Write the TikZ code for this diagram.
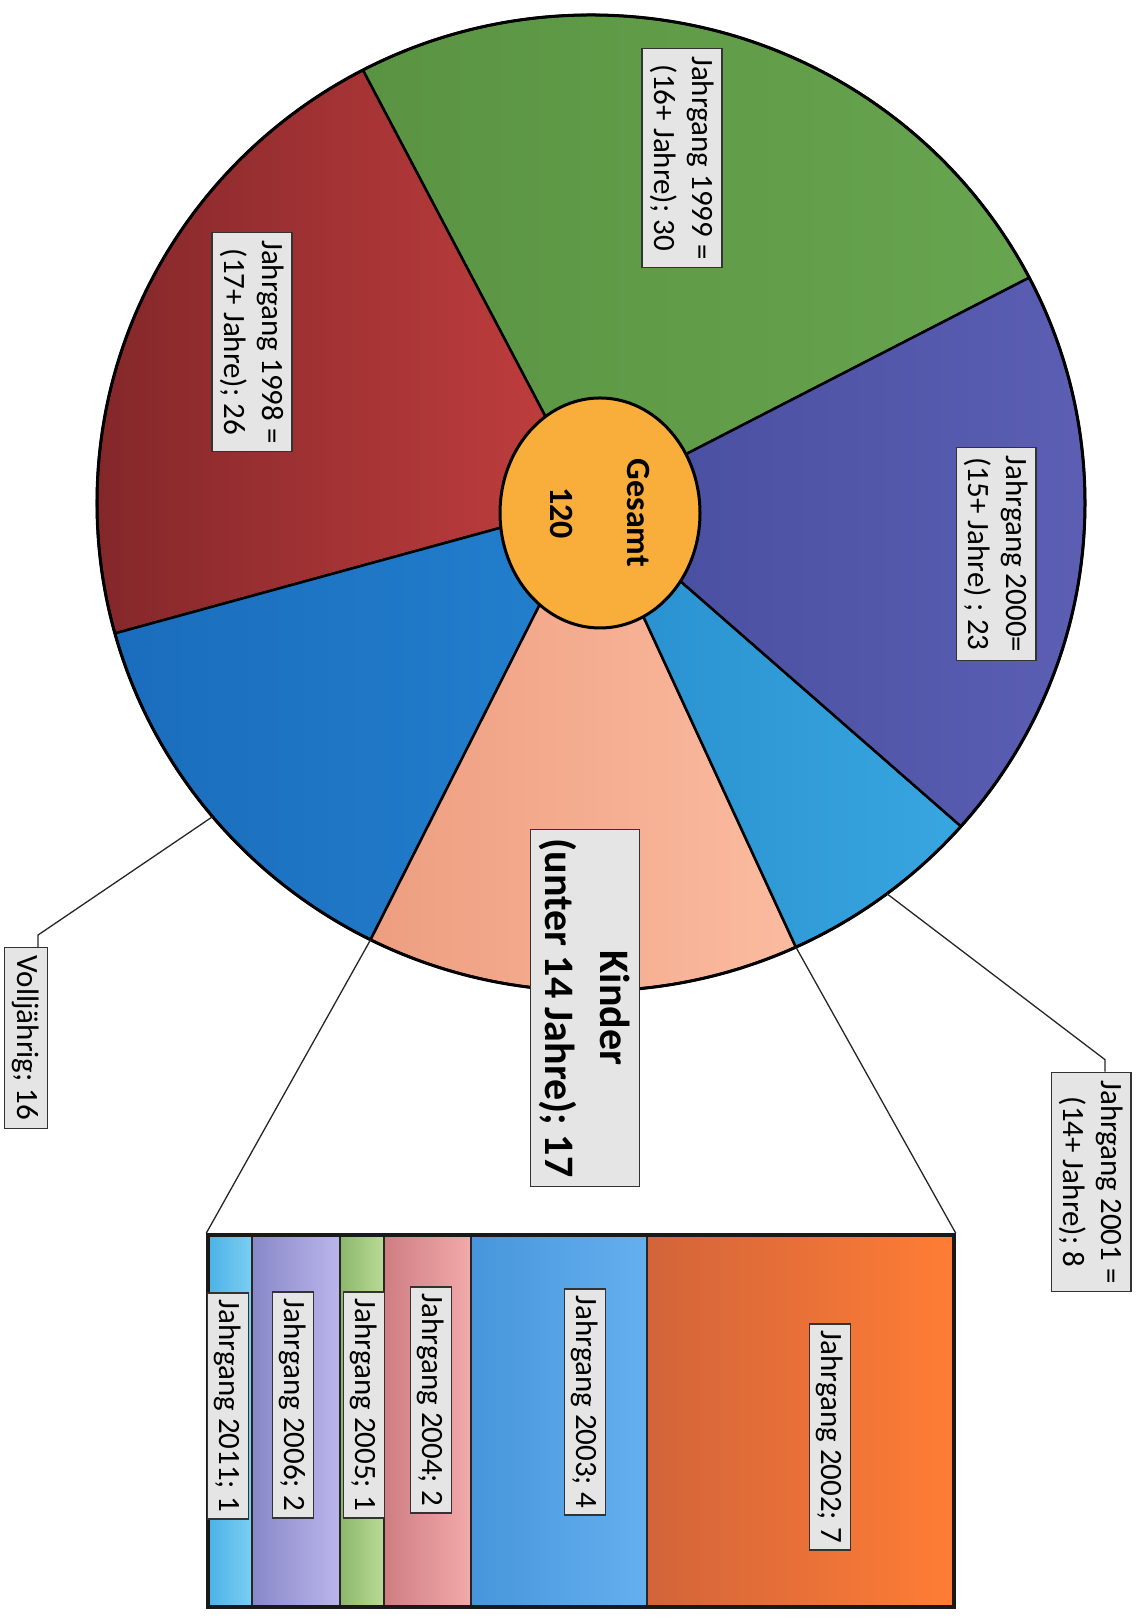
\documentclass[tikz,border=0pt]{standalone}
\usepackage{fontspec}
\setmainfont{Carlito}
\usetikzlibrary{shapes.geometric}

% slice colours (left/right of the shading)
\definecolor{grnL}{HTML}{5A9443}
\definecolor{grnR}{HTML}{68A54F}
\definecolor{redL}{HTML}{7E2528}
\definecolor{redR}{HTML}{C43F3F}
\definecolor{bluL}{HTML}{1A6DBC}
\definecolor{bluR}{HTML}{2380CE}
\definecolor{salL}{HTML}{EE9E80}
\definecolor{salR}{HTML}{FBBBA0}
\definecolor{cyaL}{HTML}{288FCE}
\definecolor{cyaR}{HTML}{38A6E0}
\definecolor{purL}{HTML}{474D9E}
\definecolor{purR}{HTML}{5D60B5}
\definecolor{gesamtC}{HTML}{F9AE3B}
% bar colours
\definecolor{bElfL}{HTML}{4DB2E6}
\definecolor{bElfR}{HTML}{7ACEF2}
\definecolor{bSixL}{HTML}{8888C8}
\definecolor{bSixR}{HTML}{BBB5EB}
\definecolor{bFivL}{HTML}{8CB66C}
\definecolor{bFivR}{HTML}{B9DB94}
\definecolor{bFouL}{HTML}{CF7D83}
\definecolor{bFouR}{HTML}{F2AAAA}
\definecolor{bThrL}{HTML}{4795DB}
\definecolor{bThrR}{HTML}{64B0EF}
\definecolor{bTwoL}{HTML}{D2643A}
\definecolor{bTwoR}{HTML}{FF7D35}

\tikzset{
  lbl/.style={draw=black!80, fill=black!10, line width=1.2pt, rotate=-90,
    align=center, inner sep=8pt, font=\fontsize{31}{38}\selectfont},
  wedge/.style={draw=black, line width=2.5pt, line join=round},
  leader/.style={draw=black!85, line width=1.3pt},
  barseg/.style={draw=black!85, line width=2pt},
}

\begin{document}
\begin{tikzpicture}[x=1pt,y=1pt]
  \useasboundingbox (0,0) rectangle (1143,1619);
  \coordinate (C) at (591,1116);

  % pie slices
  \foreach \a/\b/\cl/\cr in {27.5/117.5/grnL/grnR, 117.5/195.5/redL/redR,
      195.5/243.5/bluL/bluR, 243.5/294.5/salL/salR,
      294.5/318.5/cyaL/cyaR, 318.5/387.5/purL/purR}
    \shadedraw[wedge, left color=\cl, right color=\cr]
      (C) -- ++(\a:494 and 488)
      arc[start angle=\a, end angle=\b, x radius=494, y radius=488] -- cycle;
  \draw[line width=3pt] (C) ellipse[x radius=494, y radius=488];

  % points on the rim
  \path (C) ++(220:494 and 488) coordinate (pVoll);
  \path (C) ++(306.8:494 and 488) coordinate (pJg01);
  \path (C) ++(243.5:494 and 488) coordinate (kidL);
  \path (C) ++(294.5:494 and 488) coordinate (kidR);

  % slice labels
  \node[lbl] (jg99) at (682,1461) {Jahrgang 1999 =\\(16+ Jahre); 30};
  \node[lbl] (jg98) at (252,1277) {Jahrgang 1998 =\\(17+ Jahre); 26};
  \node[lbl] (jg00) at (996,1065) {Jahrgang 2000=\\(15+ Jahre) ; 23};
  \node[lbl] (jg01) at (1091,437) {Jahrgang 2001 =\\(14+ Jahre); 8};
  \node[lbl] (voll) at (26,581) {Volljährig; 16};
  \node[lbl, inner sep=9pt, font=\bfseries\fontsize{42}{55}\selectfont]
    (kinder) at (585,611) {Kinder\\(unter 14 Jahre); 17};

  % centre
  \node[ellipse, draw, line width=3pt, fill=gesamtC, rotate=-90,
    minimum width=230pt, minimum height=200pt, inner sep=0pt, align=center,
    font=\bfseries\fontsize{34}{41}\selectfont] (gesamt) at (600,1106)
    {Gesamt\\[36pt]120};

  % leader lines
  \draw[leader] ([xshift=12pt]voll.west) -- ++(0,12) -- (pVoll);
  \draw[leader] ([xshift=14pt]jg01.west) -- ++(0,12) -- (pJg01);

  % bar for the children
  \foreach \xa/\xb/\cl/\cr in {208/251.9/bElfL/bElfR, 251.9/339.6/bSixL/bSixR,
      339.6/383.5/bFivL/bFivR, 383.5/471.3/bFouL/bFouR,
      471.3/646.8/bThrL/bThrR, 646.8/954/bTwoL/bTwoR}
    \shadedraw[barseg, left color=\cl, right color=\cr] (\xa,12) rectangle (\xb,384);
  \node[draw=black!90, line width=3.5pt, minimum width=746pt, minimum height=372pt,
    inner sep=0pt] (bar) at (581,198) {};
  \draw[leader] (kidL) -- (bar.north west);
  \draw[leader] (kidR) -- (bar.north east);

  % bar labels
  \node[lbl, inner sep=7pt] (jg11) at (228,213) {Jahrgang 2011; 1};
  \node[lbl, inner sep=7pt] (jg06) at (293,214) {Jahrgang 2006; 2};
  \node[lbl, inner sep=7pt] (jg05) at (364,214) {Jahrgang 2005; 1};
  \node[lbl, inner sep=7pt] (jg04) at (431,219) {Jahrgang 2004; 2};
  \node[lbl, inner sep=7pt] (jg03) at (585,217) {Jahrgang 2003; 4};
  \node[lbl, inner sep=7pt] (jg02) at (830,182) {Jahrgang 2002; 7};
\end{tikzpicture}
\end{document}
